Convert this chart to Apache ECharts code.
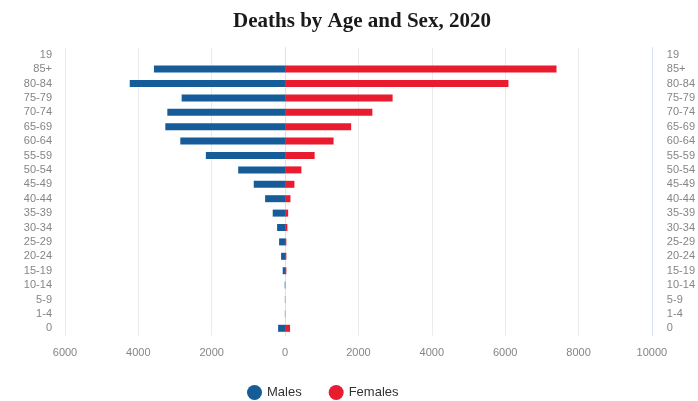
<!DOCTYPE html>
<html>
<head>
<meta charset="utf-8">
<script src="https://cdn.jsdelivr.net/npm/echarts@6/dist/echarts.min.js"></script>
<style>
  html, body { margin: 0; padding: 0; background: #fff; }
  #chart { width: 698px; height: 401px; }
</style>
</head>
<body>
<div id="chart"></div>
<script>
// Age groups, bottom to top
const ageGroups = ['0', '1-4', '5-9', '10-14', '15-19', '20-24', '25-29', '30-34', '35-39',
  '40-44', '45-49', '50-54', '55-59', '60-64', '65-69', '70-74', '75-79', '80-84', '85+', '19'];

// Deaths per age group
const males = [190, 5, 5, 10, 65, 109, 163, 218, 337, 544, 854, 1278, 2160, 2856, 3265, 3210, 2820, 4235, 3575, 0];
const females = [136, 5, 5, 8, 35, 35, 35, 63, 84, 147, 255, 445, 806, 1322, 1802, 2380, 2932, 6090, 7400, 0];

// x-axis range and step
const xMin = -6000;
const xMax = 10000;
const xStep = 2000;

const chart = echarts.init(document.getElementById('chart'), null, { renderer: 'canvas' });

const labelStyle = { color: '#858585', fontSize: 11, fontFamily: 'Liberation Sans, Arial, sans-serif' };

chart.setOption({
  animation: false,
  title: {
    text: 'Deaths by Age and Sex, 2020',
    left: 357,
    textAlign: 'center',
    top: 6,
    textStyle: {
      fontFamily: 'Liberation Serif, Times New Roman, serif',
      fontWeight: 'bold',
      fontSize: 21,
      color: '#1a1a1a'
    }
  },
  legend: {
    left: 242,
    top: 380,
    icon: 'circle',
    itemWidth: 15,
    itemHeight: 15,
    itemGap: 27,
    textStyle: { color: '#333', fontSize: 13, fontFamily: 'Liberation Sans, Arial, sans-serif' },
    data: ['Males', 'Females']
  },
  grid: { left: 65, right: 44, top: 47.5, bottom: 65.5, containLabel: false },
  xAxis: {
    type: 'value',
    min: xMin,
    max: xMax,
    interval: xStep,
    axisLine: { show: false },
    axisTick: { show: false },
    splitLine: { show: true, lineStyle: { color: '#ebebeb', width: 1 } },
    axisLabel: Object.assign({ margin: 12, formatter: v => String(Math.abs(v)) }, labelStyle)
  },
  yAxis: [
    {
      type: 'category',
      data: ageGroups,
      position: 'left',
      axisLine: { show: true, lineStyle: { color: '#d5e2f3', width: 1 } },
      axisTick: { show: false },
      axisLabel: Object.assign({ interval: 0, margin: 13 }, labelStyle)
    },
    {
      type: 'category',
      data: ageGroups,
      position: 'right',
      axisLine: { show: true, lineStyle: { color: '#d5e2f3', width: 1 } },
      axisTick: { show: false },
      axisLabel: Object.assign({ interval: 0, margin: 15 }, labelStyle)
    }
  ],
  series: [
    {
      name: 'Males',
      type: 'bar',
      barWidth: 7,
      barGap: '-100%',
      itemStyle: { color: '#155c99' },
      data: males.map(v => -v)
    },
    {
      name: 'Females',
      type: 'bar',
      barWidth: 7,
      barGap: '-100%',
      itemStyle: { color: '#e91b2f' },
      data: females
    }
  ]
});
</script>
</body>
</html>
